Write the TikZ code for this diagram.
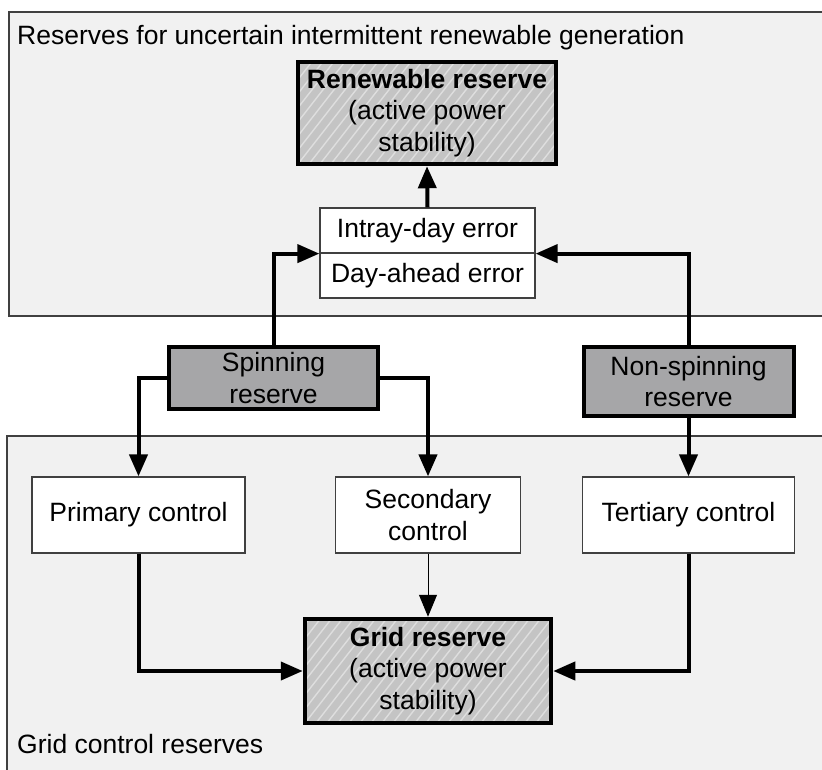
\documentclass[tikz,border=0pt]{standalone}
\usepackage{fontspec}
\setmainfont{Liberation Sans}
\usetikzlibrary{arrows.meta}
\definecolor{panelfill}{HTML}{F1F1F1}
\definecolor{panelline}{HTML}{404040}
\definecolor{hatchgray}{HTML}{C4C4C4}
\definecolor{hatchline}{HTML}{DEDEDE}
\definecolor{spinfill}{HTML}{A6A6A8}
\tikzset{
  panel/.style={draw=panelline, line width=1.2pt, fill=panelfill},
  paneltext/.style={anchor=base west, inner sep=0pt, font=\fontsize{26.5}{31.5}\selectfont},
  txt/.style={align=center, inner sep=0pt, font=\fontsize{26.5}{31.5}\selectfont},
  whitebox/.style={txt, draw=panelline, line width=1.2pt, fill=white},
  spinbox/.style={txt, draw=black, line width=4pt, fill=spinfill},
  hatchbox/.style={txt, draw=black, line width=4.5pt, fill=hatchgray,
    path picture={
      \foreach \k in {-14,...,34}
        \draw[hatchline, line width=1.4pt]
          ([xshift=\k*11pt]path picture bounding box.south west) -- ++(100pt,128pt);
    }},
  thickarrow/.style={line width=4pt, -{Triangle[length=22pt,width=18pt]}},
  thinarrow/.style={line width=1pt, -{Triangle[length=22pt,width=18pt]}},
}
\begin{document}
\begin{tikzpicture}[x=1pt,y=-1pt]
\useasboundingbox (0,0) rectangle (822,769);
\fill[white] (0,0) rectangle (822,769);
% panels
\draw[panel] (9,12) rectangle (840,316);
\draw[panel] (7,436) rectangle (840,790);
\node[paneltext] (toptitle) at (17,44) {Reserves for uncertain intermittent renewable generation};
\node[paneltext] (bottitle) at (17,753) {Grid control reserves};
% nodes
\node[hatchbox, minimum width=258pt, minimum height=102pt] (ren) at (427,113)
  {\textbf{Renewable reserve}\\(active power\\stability)};
\node[whitebox, minimum width=215pt, minimum height=45pt] (intray) at (427.5,230.5) {Intray-day error};
\node[whitebox, minimum width=215pt, minimum height=45pt] (dayahead) at (427.5,275.5) {Day-ahead error};
\node[spinbox, minimum width=209pt, minimum height=62pt] (spin) at (273.5,378) {Spinning\\reserve};
\node[spinbox, minimum width=210pt, minimum height=69pt] (nonspin) at (688.5,381.5) {Non-spinning\\reserve};
\node[whitebox, minimum width=213pt, minimum height=76pt] (primary) at (138.5,515) {Primary control};
\node[whitebox, minimum width=185pt, minimum height=76pt] (secondary) at (428,515) {Secondary\\control};
\node[whitebox, minimum width=212pt, minimum height=76pt] (tertiary) at (688.5,515) {Tertiary control};
\node[hatchbox, minimum width=246pt, minimum height=104pt] (grid) at (428,671)
  {\textbf{Grid reserve}\\(active power\\stability)};
% connectors
\draw[thickarrow] (spin.north) |- (intray.south west);
\draw[thickarrow] (nonspin.north) |- (intray.south east);
\draw[thickarrow] (intray.north) -- (ren.south);
\draw[thickarrow] (spin.west) -| (primary.north);
\draw[thickarrow] (spin.east) -| (secondary.north);
\draw[thickarrow] (nonspin.south) -- (tertiary.north);
\draw[thickarrow] (primary.south) |- (grid.west);
\draw[thickarrow] (tertiary.south) |- (grid.east);
\draw[thinarrow] (secondary.south) -- (grid.north);
\end{tikzpicture}
\end{document}
